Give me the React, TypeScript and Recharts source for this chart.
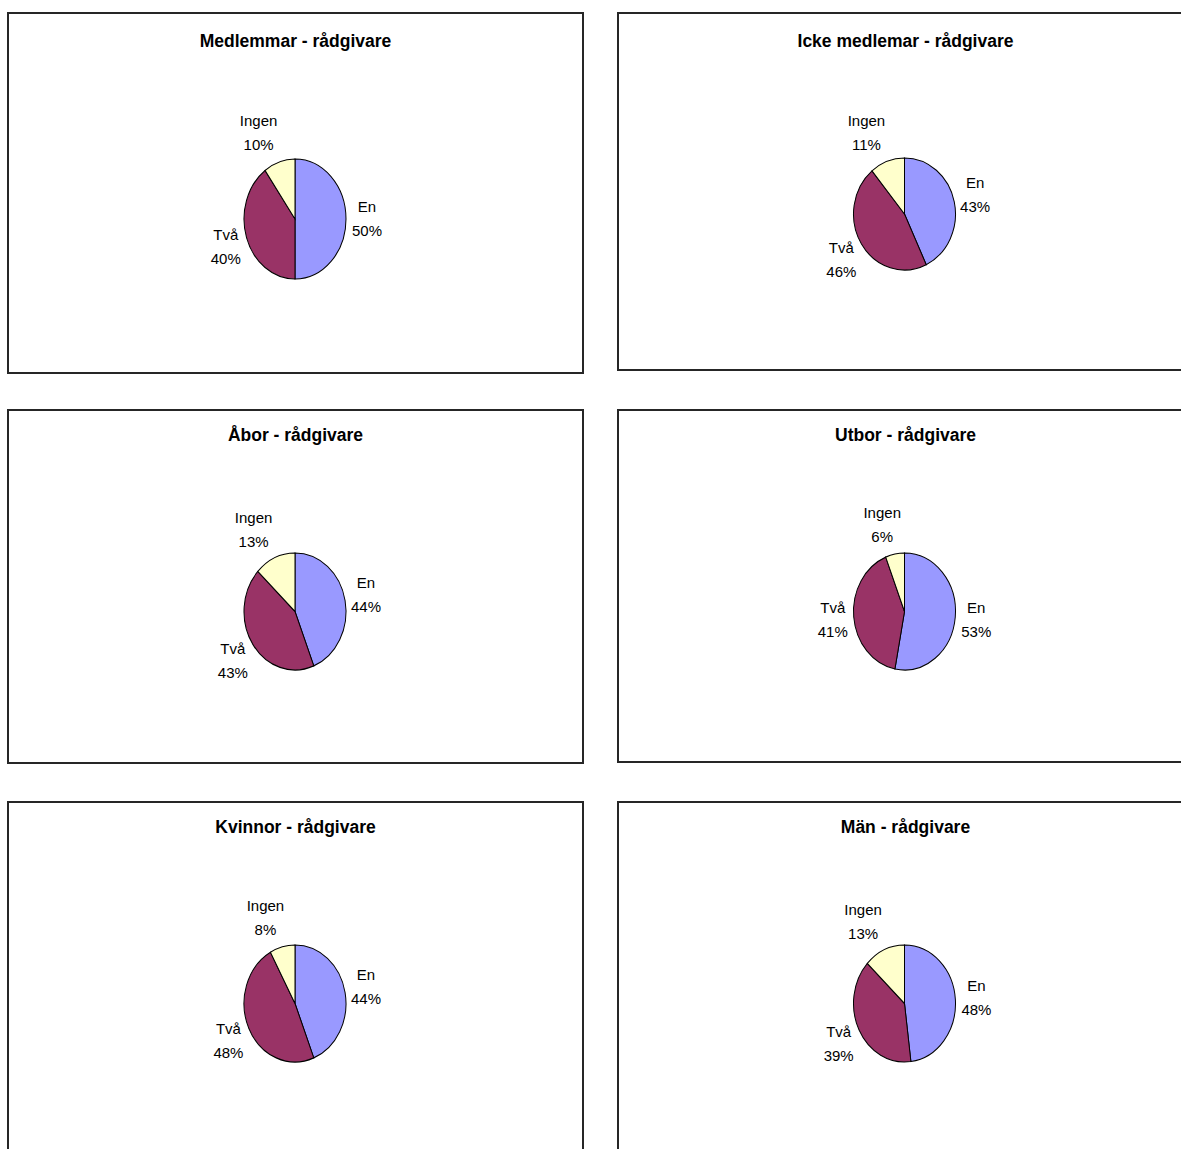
import { PieChart, Pie, Cell, Sector } from 'recharts';

// slices start at 12 o'clock and run clockwise: En, Två, Ingen
const categories = ['En', 'Två', 'Ingen'];
const colors = ['#9999FF', '#993366', '#FFFFCC'];

const titles = [
  'Medlemmar - rådgivare',
  'Icke medlemar - rådgivare',
  'Åbor - rådgivare',
  'Utbor - rådgivare',
  'Kvinnor - rådgivare',
  'Män - rådgivare',
];

const medlemmar = [50, 40, 10];
const ickeMedlemmar = [43, 46, 11];
const abor = [44, 43, 13];
const utbor = [53, 41, 6];
const kvinnor = [44, 48, 8];
const man = [48, 39, 13];

const series = [medlemmar, ickeMedlemmar, abor, utbor, kvinnor, man];

// panel boxes and pie centres in page pixels
const layout = [
  { left: 7, top: 12, width: 577, height: 362, pieX: 295, pieY: 219, ry: 60, titleY: 29 },
  { left: 617, top: 12, width: 577, height: 359, pieX: 904.5, pieY: 214, ry: 56, titleY: 29 },
  { left: 7, top: 409, width: 577, height: 355, pieX: 295, pieY: 611.5, ry: 58.5, titleY: 26 },
  { left: 617, top: 409, width: 577, height: 354, pieX: 904.5, pieY: 611.5, ry: 58.5, titleY: 26 },
  { left: 7, top: 801, width: 577, height: 355, pieX: 295, pieY: 1003.5, ry: 58.5, titleY: 26 },
  { left: 617, top: 801, width: 577, height: 355, pieX: 904.5, pieY: 1003.5, ry: 58.5, titleY: 26 },
];

const RX = 51;
const BORDER = 2;
const FONT = '"Liberation Sans", Arial, sans-serif';
const LABEL_SIZE = 15;

const charW: Record<string, number> = {
  I: 0.278, i: 0.222, l: 0.222, '%': 0.889, v: 0.5, T: 0.611, E: 0.667, r: 0.333,
};
function textWidth(s: string) {
  let w = 0;
  for (const ch of s) w += charW[ch] ?? 0.556;
  return w * LABEL_SIZE;
}

// Excel draws these pies slightly taller than wide
function sliceShape(ry: number) {
  return (props: any) => {
    const k = ry / props.outerRadius;
    return (
      <g transform={`translate(0 ${props.cy}) scale(1 ${k}) translate(0 ${-props.cy})`}>
        <Sector {...props} />
      </g>
    );
  };
}

function sliceLabel(ry: number) {
  return (props: any) => {
    const { cx, cy, midAngle, outerRadius, index, value } = props;
    const rad = (midAngle * Math.PI) / 180;
    const dx = Math.cos(rad);
    const dy = -Math.sin(rad);
    const px = cx + (outerRadius + 6) * dx;
    const py = cy + (ry + 6) * dy;
    const name = props.payload?.name ?? categories[index];
    const pct = `${value}%`;
    const w = Math.max(textWidth(name), textWidth(pct));
    const lx = px + Math.sign(dx) * Math.min(1, Math.abs(dx) * 3.3) * (w / 2);
    const ly = py + dy * 24;
    return (
      <text textAnchor="middle" fontSize={LABEL_SIZE} fontFamily={FONT} fill="#000">
        <tspan x={lx} y={ly - 12 + 5}>{name}</tspan>
        <tspan x={lx} y={ly + 12 + 5}>{pct}</tspan>
      </text>
    );
  };
}

function PiePanel({ idx }: { idx: number }) {
  const box = layout[idx];
  const data = categories.map((name, i) => ({ name, value: series[idx][i] }));
  const innerW = box.width - BORDER * 2;
  const innerH = box.height - BORDER * 2;
  const cx = box.pieX - (box.left + BORDER);
  const cy = box.pieY - (box.top + BORDER);
  return (
    <div
      style={{
        position: 'absolute',
        left: box.left,
        top: box.top,
        width: box.width,
        height: box.height,
        boxSizing: 'border-box',
        border: `${BORDER}px solid #262626`,
        background: '#fff',
      }}
    >
      <div
        style={{
          position: 'absolute',
          left: 0,
          width: innerW,
          top: box.titleY - BORDER - 12,
          lineHeight: '24px',
          textAlign: 'center',
          fontFamily: FONT,
          fontWeight: 'bold',
          fontSize: 17.5,
          color: '#000',
        }}
      >
        {titles[idx]}
      </div>
      <PieChart width={innerW} height={innerH} margin={{ top: 0, right: 0, bottom: 0, left: 0 }}>
        <Pie
          data={data}
          dataKey="value"
          nameKey="name"
          cx={cx}
          cy={cy}
          outerRadius={RX}
          startAngle={90}
          endAngle={-270}
          stroke="#000"
          strokeWidth={1}
          labelLine={false}
          label={sliceLabel(box.ry)}
          shape={sliceShape(box.ry)}
          isAnimationActive={false}
        >
          {data.map((d, i) => (
            <Cell key={d.name} fill={colors[i]} />
          ))}
        </Pie>
      </PieChart>
    </div>
  );
}

export default function App() {
  return (
    <div
      style={{
        position: 'absolute',
        left: 0,
        top: 0,
        width: 1181,
        height: 1149,
        overflow: 'hidden',
        background: '#fff',
      }}
    >
      {layout.map((_, i) => (
        <PiePanel key={i} idx={i} />
      ))}
    </div>
  );
}
